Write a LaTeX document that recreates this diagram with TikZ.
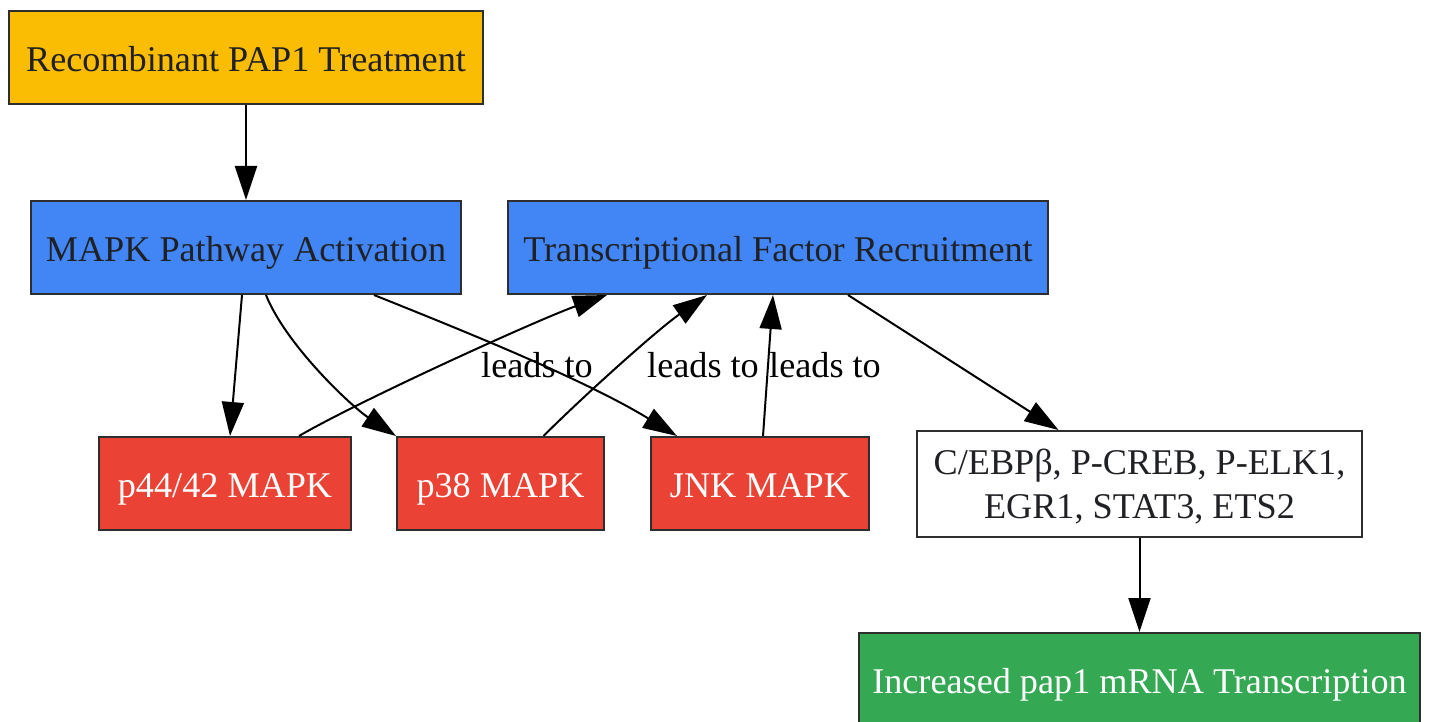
\documentclass[tikz,border=0pt]{standalone}
\usepackage{fontspec}
\setmainfont{Liberation Serif}
\usepackage{tikz}
\usetikzlibrary{arrows.meta,calc,positioning}
\definecolor{pyellow}{HTML}{FBBC04}
\definecolor{pblue}{HTML}{4285F4}
\definecolor{pred}{HTML}{EA4335}
\definecolor{pgreen}{HTML}{34A853}
\definecolor{pink}{HTML}{202124}
\definecolor{pline}{HTML}{2E2E2E}
\begin{document}
\begin{tikzpicture}[x=0.5pt,y=-0.5pt]
\tikzstyle{box}=[draw=pline,line width=1pt,inner sep=0pt,font=\fontsize{18.1}{20}\selectfont,text=pink,text height=15pt,text depth=1pt,minimum height=46.5pt]
\tikzstyle{redbox}=[box,fill=pred,text=white]
\tikzstyle{lbl}=[inner sep=0pt,font=\fontsize{18.1}{20}\selectfont]
\tikzstyle{arr}=[line width=1pt,-{Triangle[length=17pt,width=11pt]}]
\useasboundingbox (0,0) rectangle (1430,722);
\node [box,fill=pyellow,minimum width=237pt] (recomb) at (246,58) {Recombinant PAP1 Treatment};
\node [box,fill=pblue,minimum width=215pt] (mapk) at (246,247.5) {MAPK Pathway Activation};
\node [box,fill=pblue,minimum width=270pt] (tf) at (778,247.5) {Transcriptional Factor Recruitment};
\node [redbox,minimum width=126pt] (p44) at (225,483.5) {p44/42 MAPK};
\node [redbox,minimum width=103.5pt] (p38) at (500.5,483.5) {p38 MAPK};
\node [redbox,minimum width=109pt] (jnk) at (760,483.5) {JNK MAPK};
\node [box,fill=white,minimum width=222.5pt,minimum height=53pt,align=center,text height=36pt,text depth=2pt,font=\fontsize{18.1}{21.8}\selectfont] (cebp) at (1139.5,484) {C/EBPβ, P-CREB, P-ELK1,\\EGR1, STAT3, ETS2};
\node [box,fill=pgreen,text=white,minimum width=280.5pt] (incr) at (1139.5,679.5) {Increased pap1 mRNA Transcription};
\node [lbl] (lead1) at (537,365) {leads to};
\node [lbl] (lead2) at (703,365) {leads to};
\node [lbl] (lead3) at (825,365) {leads to};
\draw [arr] (recomb) -- (mapk);
\draw [arr] ($(mapk.south)+(-4,0)$) -- ($(p44.north)+(5,0)$);
\draw [arr] ($(mapk.south)+(20,0)$) .. controls +(20,50) and +(-45,-30) .. ($(p38.north west)+(0,0)$);
\draw [arr] ($(mapk.south)+(128,0)$) .. controls +(100,40) and +(-90,-55) .. ($(jnk.north west)+(27,0)$);
\draw [arr] ($(p44.north)+(74,0)$) .. controls +(60,-35) and +(-70,25) .. ($(tf.south west)+(100,0)$);
\draw [arr] ($(p38.north)+(43,0)$) .. controls +(40,-40) and +(-50,35) .. ($(tf.south west)+(200,0)$);
\draw [arr] ($(jnk.north)+(3,0)$) -- ($(tf.south)+(-5,0)$);
\draw [arr] ($(tf.south)+(70,0)$) -- ($(cebp.north)+(-81,0)$);
\draw [arr] (cebp) -- (incr);
\end{tikzpicture}
\end{document}
